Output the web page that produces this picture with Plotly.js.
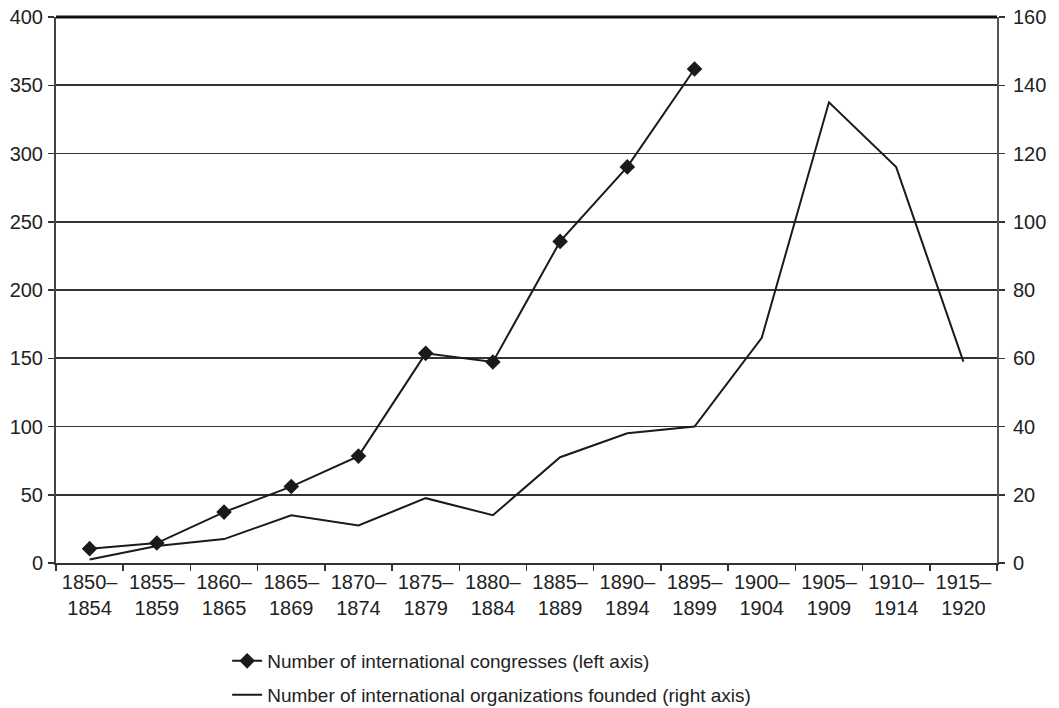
<!DOCTYPE html>
<html>
<head>
<meta charset="utf-8">
<script src="https://cdn.plot.ly/plotly-3.0.1.min.js"></script>
<style>html,body{margin:0;padding:0;background:#fff;}#chart{width:1059px;height:708px;}</style>
</head>
<body>
<div id="chart"></div>
<script>
const categories = ["1850–<br>1854","1855–<br>1859","1860–<br>1865","1865–<br>1869","1870–<br>1874","1875–<br>1879","1880–<br>1884","1885–<br>1889","1890–<br>1894","1895–<br>1899","1900–<br>1904","1905–<br>1909","1910–<br>1914","1915–<br>1920"];
const congresses = [10.5, 14.6, 37.3, 56, 78.3, 153.6, 147.3, 235.6, 290.2, 361.9];
const organizations = [1, 5, 7, 14, 11, 19, 14, 31, 38, 40, 66, 135, 116, 59];
const leftTicks = [0, 50, 100, 150, 200, 250, 300, 350, 400];
const rightTicks = [0, 20, 40, 60, 80, 100, 120, 140, 160];

const fam = "Liberation Sans, Arial, Helvetica, sans-serif";
const font = {family: fam, size: 20, color: "#222"};

const traces = [
  {
    x: categories.slice(0, congresses.length), y: congresses,
    type: "scatter", mode: "lines+markers",
    name: "Number of international congresses (left axis)",
    line: {color: "#1a1a1a", width: 2},
    marker: {symbol: "diamond", size: 12, color: "#1a1a1a"},
    yaxis: "y", legend: "legend"
  },
  {
    x: categories, y: organizations,
    type: "scatter", mode: "lines",
    name: "Number of international organizations founded (right axis)",
    line: {color: "#1a1a1a", width: 2},
    yaxis: "y2", legend: "legend2"
  }
];

// invisible trace that activates yaxis3 (inward half of the right-axis ticks)
traces.push({x: [categories[0]], y: [null], yaxis: "y3", type: "scatter", mode: "lines", showlegend: false, hoverinfo: "skip"});

const layout = {
  width: 1059, height: 708,
  margin: {l: 56, r: 62, t: 17, b: 145, autoexpand: false},
  paper_bgcolor: "#fff", plot_bgcolor: "#fff",
  font: font,
  showlegend: true,
  xaxis: {
    type: "category", categoryorder: "array", categoryarray: categories,
    range: [-0.5, 13.5], tickson: "boundaries", automargin: false,
    ticks: "outside", ticklen: 6, tickwidth: 1.5, tickcolor: "#333",
    showline: true, linecolor: "#333", linewidth: 2,
    showgrid: false, zeroline: false,
    tickfont: font, fixedrange: true
  },
  yaxis: {
    range: [0, 400], tickvals: leftTicks, automargin: false,
    ticks: "outside", ticklen: 6, tickwidth: 1.5, tickcolor: "#333",
    showline: true, linecolor: "#444", linewidth: 2,
    showgrid: true, gridcolor: "#333", gridwidth: 1.6,
    zeroline: false, tickfont: font, ticklabelstandoff: 1
  },
  yaxis2: {
    range: [0, 160], tickvals: rightTicks, automargin: false,
    overlaying: "y", side: "right",
    ticks: "outside", ticklen: 6, tickwidth: 1.5, tickcolor: "#333",
    showline: true, linecolor: "#555", linewidth: 2,
    showgrid: false, zeroline: false, tickfont: font, ticklabelstandoff: 4
  },
  yaxis3: {
    range: [0, 160], tickvals: rightTicks, automargin: false,
    overlaying: "y", side: "right",
    ticks: "inside", ticklen: 6, tickwidth: 1.5, tickcolor: "#333",
    showticklabels: false, showline: false,
    showgrid: false, zeroline: false
  },
  legend: {
    xref: "container", yref: "container",
    x: 0.2145, y: 0.0664, xanchor: "left", yanchor: "middle",
    orientation: "v", bgcolor: "rgba(0,0,0,0)",
    font: {family: fam, size: 19, color: "#222"},
    itemwidth: 30
  },
  legend2: {
    xref: "container", yref: "container",
    x: 0.2145, y: 0.0184, xanchor: "left", yanchor: "middle",
    orientation: "v", bgcolor: "rgba(0,0,0,0)",
    font: {family: fam, size: 19, color: "#222"},
    itemwidth: 30
  },
  shapes: [
    {type: "line", xref: "paper", yref: "paper", x0: 0, x1: 1, y0: 1, y1: 1,
     line: {color: "#111", width: 3}}
  ]
};

Plotly.newPlot("chart", traces, layout, {displayModeBar: false, staticPlot: true});
</script>
</body>
</html>
